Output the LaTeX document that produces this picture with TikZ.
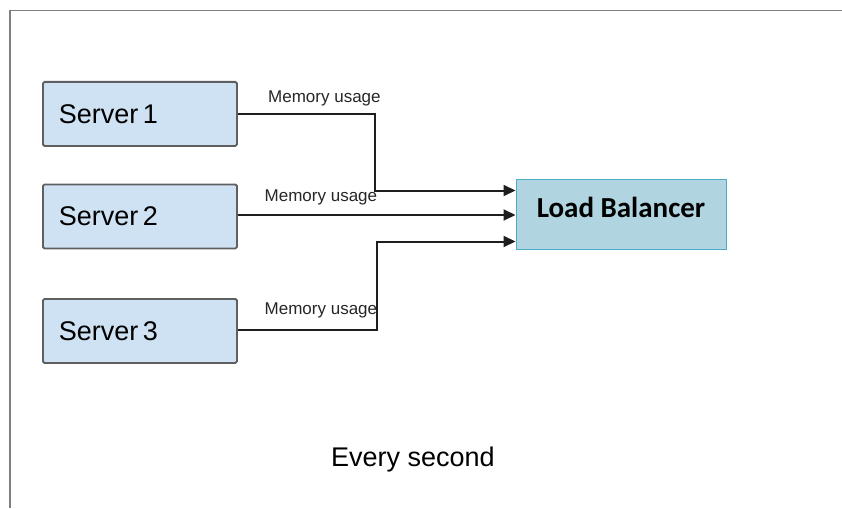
\documentclass[tikz,border=0pt]{standalone}
\usepackage{fontspec}
\setmainfont{Liberation Sans}
\newfontfamily\calibri{Carlito}
\usetikzlibrary{arrows.meta}
\definecolor{srvfill}{RGB}{207,226,243}
\definecolor{srvdraw}{RGB}{95,95,95}
\definecolor{lbfill}{RGB}{176,212,224}
\definecolor{lbdraw}{RGB}{75,172,198}
\definecolor{wire}{RGB}{30,30,30}
\definecolor{framegray}{RGB}{128,128,128}
\tikzset{
  server/.style={draw=srvdraw, fill=srvfill, line width=1.8pt, rounded corners=1.5pt,
    minimum height=64pt, text width=162pt, inner xsep=16pt, inner ysep=0pt, align=left,
    font=\fontsize{27}{30}\selectfont, anchor=north west},
  lb/.style={draw=lbdraw, fill=lbfill, line width=1.4pt, minimum width=210pt, minimum height=70pt,
    anchor=north west, inner sep=0pt},
  lbl/.style={font=\fontsize{17}{18}\selectfont, text=black!85, anchor=base west, inner sep=0pt},
  conn/.style={draw=wire, line width=2pt, -{Triangle[length=12pt,width=11pt]}},
}
\begin{document}
\begin{tikzpicture}[x=1pt,y=-1pt]
\useasboundingbox (0,0) rectangle (842,508);
\coordinate (ftop) at (842,10.5);
\coordinate (fcorner) at (10,10.5);
\coordinate (fbot) at (10,508);
\draw[framegray, line width=1.3pt] (ftop) -- (fcorner) -- (fbot);

\node[server] (s1) at (42,81) {Server\,1};
\node[server] (s2) at (42,183.5) {Server\,2};
\node[server] (s3) at (42,298) {Server\,3};
\node[lb] (lb) at (515.5,178.5) {};
\node[font=\calibri\bfseries\fontsize{29}{30}\selectfont, inner sep=0pt] (lbt) at (621,207.5) {Load Balancer};

\draw[conn] (s1.east |- 0,114) -| (375,190.5) -- (lb.west |- 0,190.5);
\draw[conn] (s2.east |- 0,215) -- (lb.west |- 0,215);
\draw[conn] (s3.east |- 0,330) -| (376.5,241.5) -- (lb.west |- 0,241.5);

\node[lbl] (m1) at (268,102.5) {Memory usage};
\node[lbl] (m2) at (264.5,201.8) {Memory usage};
\node[lbl] (m3) at (264.5,314.3) {Memory usage};

\node[font=\fontsize{27}{30}\selectfont, anchor=base, inner sep=0pt] (ev) at (413,466) {Every second};
\end{tikzpicture}
\end{document}
